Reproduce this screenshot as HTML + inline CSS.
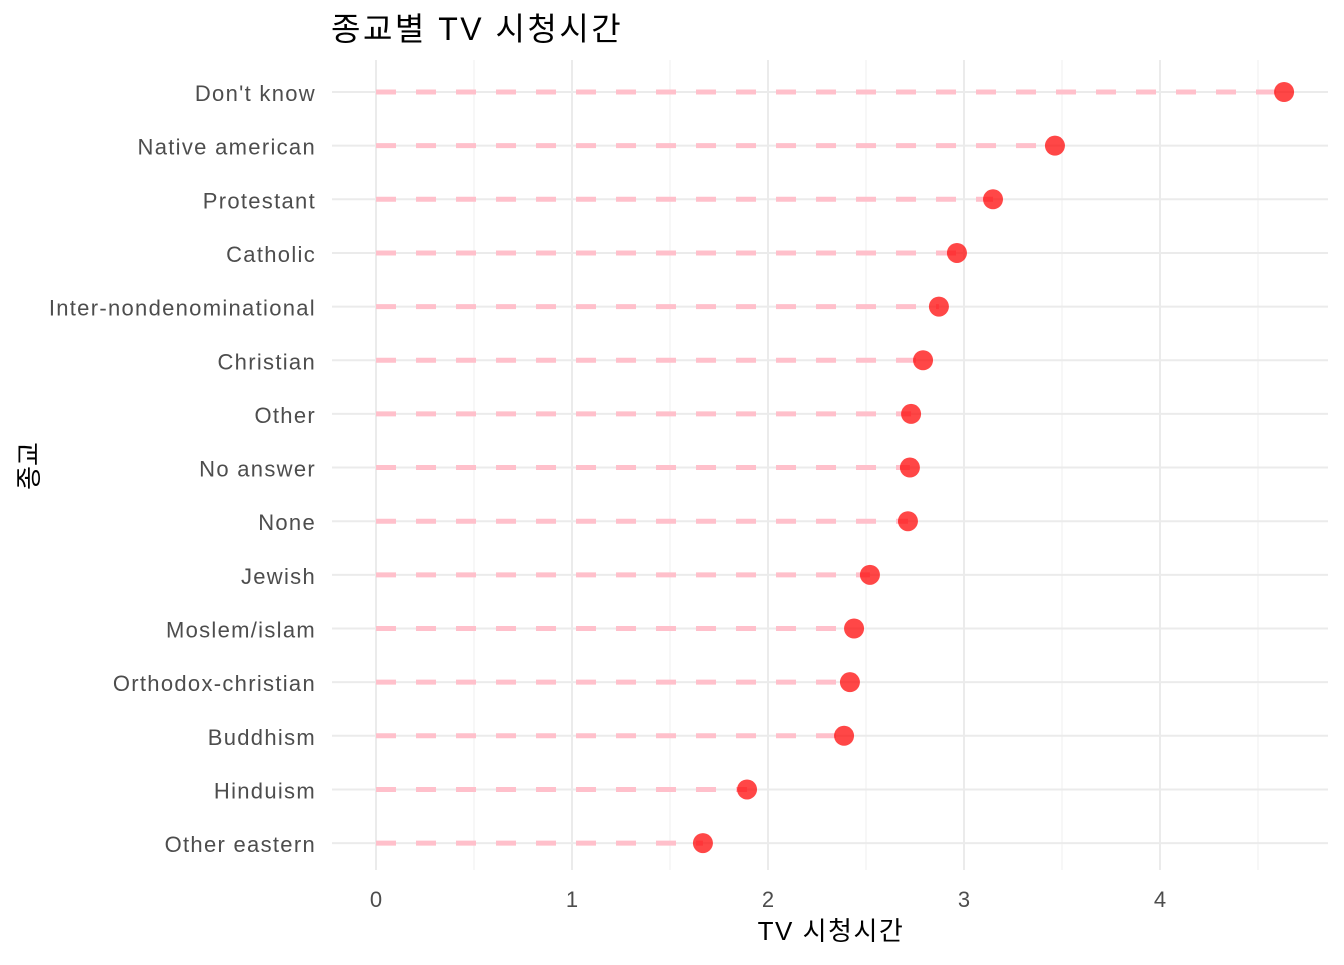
<!DOCTYPE html>
<html><head><meta charset="utf-8"><style>
body{margin:0;background:#fff;font-family:"Liberation Sans","Noto Sans CJK KR",sans-serif}
</style></head><body>
<svg id="c" width="1344" height="960" xmlns="http://www.w3.org/2000/svg">
<text x="331" y="40" font-size="32" letter-spacing="2.5" fill="#000" font-family="Liberation Sans, Noto Sans CJK KR, sans-serif">종교별 TV 시청시간</text>
<text x="831" y="940" font-size="26" letter-spacing="1.5" text-anchor="middle" fill="#000" font-family="Liberation Sans, Noto Sans CJK KR, sans-serif">TV 시청시간</text>
<text transform="translate(38,466) rotate(-90)" font-size="26" text-anchor="middle" fill="#000" font-family="Liberation Sans, Noto Sans CJK KR, sans-serif">종교</text>
<g id="grid"></g><g id="marks"></g><g id="labels"></g>
</svg>
<script>
const categories=["Don't know","Native american","Protestant","Catholic","Inter-nondenominational","Christian","Other","No answer","None","Jewish","Moslem/islam","Orthodox-christian","Buddhism","Hinduism","Other eastern"];
const values=[4.633,3.464,3.148,2.964,2.872,2.791,2.730,2.724,2.714,2.520,2.439,2.418,2.388,1.893,1.668];
const xTicks=[0,1,2,3,4];
const xMinor=[0.5,1.5,2.5,3.5,4.5];
const NS="http://www.w3.org/2000/svg";
const px0=332,px1=1328,py0=60,py1=870;
const xs=v=>376+v*196;
const ys=i=>92+i*53.65;
function mk(t,a,p){const e=document.createElementNS(NS,t);for(const k in a)e.setAttribute(k,a[k]);p.appendChild(e);return e;}
const grid=document.getElementById('grid'),marks=document.getElementById('marks'),labels=document.getElementById('labels');
xMinor.forEach(v=>{const l=mk('line',{x1:xs(v),x2:xs(v),y1:py0,y2:py1,stroke:'#efefef','stroke-width':1},grid);

});
xTicks.forEach(v=>{const l=mk('line',{x1:xs(v),x2:xs(v),y1:py0,y2:py1,stroke:'#ebebeb','stroke-width':2},grid);


const t=mk('text',{x:xs(v),y:907,'font-size':22,fill:'#4d4d4d','text-anchor':'middle'},labels);t.textContent=v;

});
categories.forEach((c,i)=>{const y=ys(i);
const g=mk('line',{x1:px0,x2:px1,y1:y,y2:y,stroke:'#ebebeb','stroke-width':2},grid);


const s=mk('line',{x1:xs(0),x2:xs(values[i]),y1:y,y2:y,stroke:'#ffc0cb','stroke-width':5,'stroke-dasharray':'20 20'},marks);


const p=mk('circle',{cx:xs(values[i]),cy:y,r:10,fill:'#ff0000','fill-opacity':0.72},marks);


const t=mk('text',{x:316,y:y+9,'font-size':22,'letter-spacing':1.3,fill:'#4d4d4d','text-anchor':'end'},labels);t.textContent=c;

});
</script>
</body></html>
